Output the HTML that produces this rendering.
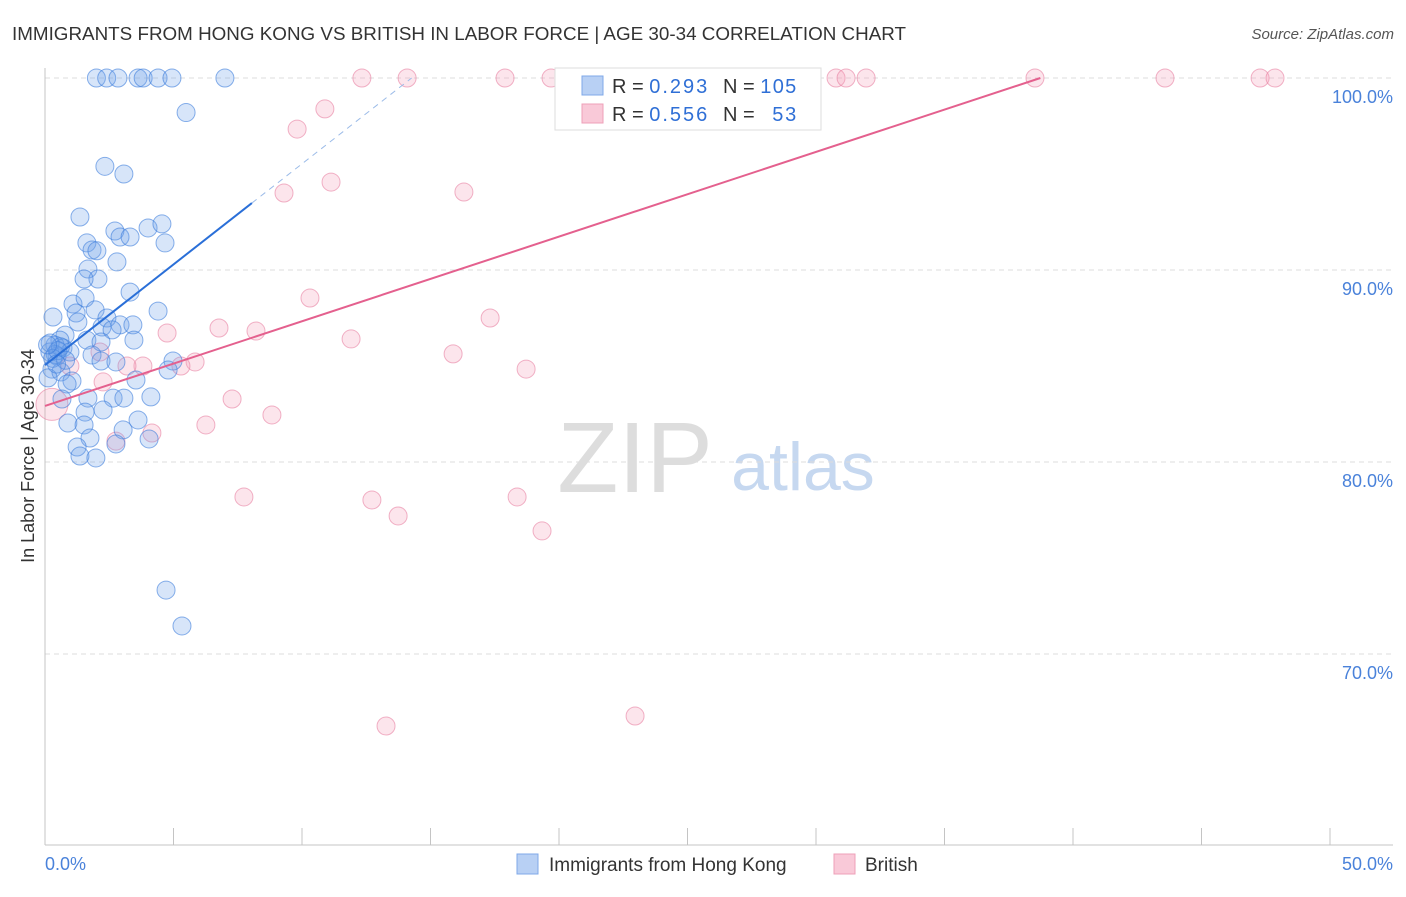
<!DOCTYPE html>
<html><head><meta charset="utf-8"><style>
body{margin:0;background:#fff;font-family:"Liberation Sans",sans-serif;}
svg text{font-family:"Liberation Sans",sans-serif;}
</style></head><body>
<svg id="chart" width="1406" height="892">
<text x="12" y="40" font-size="18.5" fill="#333" textLength="894" lengthAdjust="spacingAndGlyphs">IMMIGRANTS FROM HONG KONG VS BRITISH IN LABOR FORCE | AGE 30-34 CORRELATION CHART</text>
<text x="1394" y="39" font-size="15" fill="#555" font-style="italic" text-anchor="end">Source: ZipAtlas.com</text>
<text x="34" y="456" font-size="18" fill="#333" text-anchor="middle" transform="rotate(-90 34 456)">In Labor Force | Age 30-34</text>
<text x="635" y="492" font-size="100" fill="#ddd" font-family="Liberation Serif" text-anchor="middle">ZIP</text>
<text x="803" y="490" font-size="68" fill="#c6d8f0" text-anchor="middle">atlas</text>
<g id="grid"></g><g id="axes"></g><g id="pts"></g><g id="lines"></g>
<g>
<rect x="555" y="68" width="266" height="62" fill="#fff" stroke="#ddd"/>
<rect x="582" y="76" width="21" height="19" fill="#b8d0f4" stroke="#7fa8e8"/>
<rect x="582" y="104" width="21" height="19" fill="#f9c9d8" stroke="#eea0b8"/>
<text x="612" y="93" font-size="20" fill="#333">R = <tspan fill="#2f6fd6" textLength="58">0.293</tspan></text>
<text x="723" y="93" font-size="20" fill="#333">N = <tspan fill="#2f6fd6" textLength="36">105</tspan></text>
<text x="612" y="121" font-size="20" fill="#333">R = <tspan fill="#2f6fd6" textLength="58">0.556</tspan></text>
<text x="723" y="121" font-size="20" fill="#333">N = <tspan fill="#2f6fd6" dx="12" textLength="24">53</tspan></text>
</g>
<g>
<rect x="517" y="854" width="21" height="20" fill="#b8d0f4" stroke="#7fa8e8"/>
<text x="549" y="871" font-size="19" fill="#333">Immigrants from Hong Kong</text>
<rect x="834" y="854" width="21" height="20" fill="#f9c9d8" stroke="#eea0b8"/>
<text x="865" y="871" font-size="19" fill="#333">British</text>
</g>
</svg>
<script>
const blueX=[2.0,2.4,2.84,3.62,3.82,4.4,4.94,7.0,5.49,2.33,3.07,1.36,2.72,2.92,3.31,4.01,4.55,4.67,1.63,1.83,2.02,2.8,1.67,2.06,1.52,3.31,1.09,1.56,4.4,0.31,1.21,1.95,2.41,2.22,2.92,3.42,2.61,0.78,1.28,0.58,1.63,2.18,3.46,0.39,0.7,0.19,0.47,0.97,1.83,2.18,2.76,4.98,4.79,0.27,0.62,0.12,1.05,3.54,0.86,0.66,1.67,2.65,3.07,4.12,1.56,2.26,3.62,0.89,1.52,3.04,1.75,4.05,2.76,1.25,1.36,1.98,4.71,5.33,0.2,0.4,0.6,0.3,0.5,0.8,0.1,0.45];
const blueY=[100,100,100,100,100,100,100,100,98.2,95.4,95.0,92.76,92.03,91.72,91.72,92.19,92.4,91.41,91.41,91.04,91.0,90.42,90.05,89.53,89.53,88.85,88.23,88.54,87.86,87.55,87.76,87.92,87.5,87.03,87.14,87.14,86.88,86.61,87.29,86.35,86.35,86.25,86.35,86.09,85.94,85.73,85.52,85.73,85.57,85.26,85.21,85.26,84.79,84.84,84.69,84.38,84.22,84.27,84.06,83.28,83.33,83.33,83.33,83.39,82.6,82.71,82.19,82.03,81.93,81.67,81.25,81.2,80.94,80.78,80.31,80.21,73.33,71.46,86.2,85.6,86.0,85.4,85.8,85.3,86.1,85.1];
const pinkX=[12.33,14.09,17.9,19.69,23.07,26.26,27.24,30.78,31.17,31.95,38.52,43.58,47.28,47.86,10.89,9.81,11.13,9.3,16.3,10.31,17.32,4.75,6.77,8.21,11.91,15.88,5.84,5.29,3.81,3.19,18.72,0.97,2.14,2.26,7.28,8.83,6.26,4.16,2.76,7.74,12.72,18.37,13.74,19.34,13.27,22.96,0.27];
const pinkY=[100,100,100,100,100,100,100,100,100,100,100,100,100,100,98.39,97.34,94.58,94.01,94.06,88.54,87.5,86.72,86.98,86.82,86.41,85.63,85.21,85.0,85.0,85.0,84.84,85.0,85.73,84.17,83.28,82.45,81.93,81.51,81.09,78.18,78.02,78.18,77.19,76.41,66.25,66.77,83.0];
const yTicks=[100,90,80,70];
const yTickLabels=["100.0%","90.0%","80.0%","70.0%"];
const xTicks=[0,5,10,15,20,25,30,35,40,45,50];
const blueTrend=[85.05,1.048];
const pinkTrend=[82.92,0.441];
const NS="http://www.w3.org/2000/svg";
const sx=v=>45+v*25.7, sy=v=>78+(100-v)*19.2;
function mk(tag,attrs,parent){const e=document.createElementNS(NS,tag);for(const k in attrs)e.setAttribute(k,attrs[k]);parent.appendChild(e);return e;}
const grid=document.getElementById('grid'),axes=document.getElementById('axes'),pts=document.getElementById('pts'),lines=document.getElementById('lines');
yTicks.forEach((t,i)=>{
 const l=mk('line',{x1:45,x2:1393,y1:sy(t),y2:sy(t),stroke:'#ddd','stroke-dasharray':'5,4'},grid);
 
 
 const tx=mk('text',{x:1393,y:sy(t)+25,'font-size':18,fill:'#4a82da','text-anchor':'end'},grid);
 tx.textContent=yTickLabels[i];
 
 
});
const ya=mk('line',{x1:45,x2:45,y1:68,y2:845,stroke:'#c4c4c4'},axes);


const xa=mk('line',{x1:45,x2:1393,y1:845,y2:845,stroke:'#c4c4c4'},axes);


xTicks.forEach(t=>{
 const l=mk('line',{x1:sx(t),x2:sx(t),y1:828,y2:845,stroke:'#c4c4c4'},axes);
 
 
});
[[0,"0.0%","start",45],[50,"50.0%","end",1393]].forEach(a=>{
 const tx=mk('text',{x:a[3],y:870,'font-size':18,fill:'#4a82da','text-anchor':a[2]},axes);
 tx.textContent=a[1];
 
 
});
pinkX.forEach((x,i)=>{
 const big=i===pinkX.length-1;
 const c=mk('circle',{cx:sx(x),cy:sy(pinkY[i]),r:big?16:9,fill:'rgba(244,160,188,0.28)',stroke:'rgba(232,128,162,0.6)','stroke-width':1},pts);
 
 
});
blueX.forEach((x,i)=>{
 const c=mk('circle',{cx:sx(x),cy:sy(blueY[i]),r:9,fill:'rgba(110,160,232,0.28)',stroke:'rgba(60,125,220,0.6)','stroke-width':1},pts);
 
 
});
const bEnd=8.05, bDashEnd=(100-blueTrend[0])/blueTrend[1];
const b1=mk('line',{x1:sx(0),y1:sy(blueTrend[0]),x2:sx(bEnd),y2:sy(blueTrend[0]+blueTrend[1]*bEnd),stroke:'#2a6fd8','stroke-width':2},lines);


const b2=mk('line',{x1:sx(bEnd),y1:sy(blueTrend[0]+blueTrend[1]*bEnd),x2:sx(bDashEnd),y2:sy(100),stroke:'#9bbbe8','stroke-width':1,'stroke-dasharray':'6,5'},lines);


const pEnd=(100-pinkTrend[0])/pinkTrend[1];
const p1=mk('line',{x1:sx(0),y1:sy(pinkTrend[0]),x2:sx(pEnd),y2:sy(100),stroke:'#e4608e','stroke-width':2},lines);


</script>
</body></html>
